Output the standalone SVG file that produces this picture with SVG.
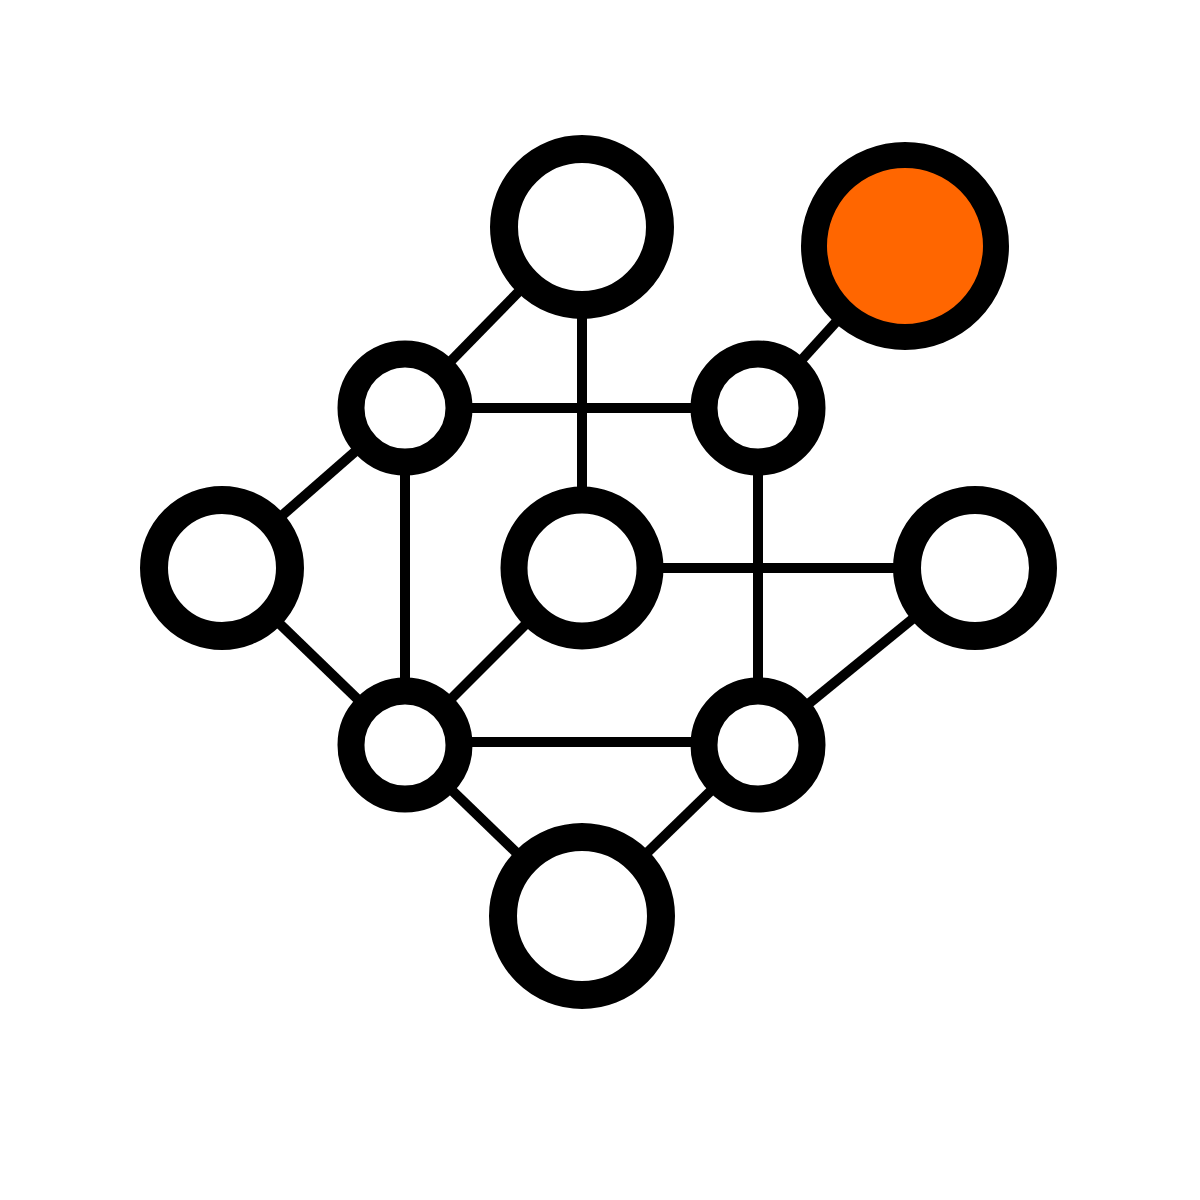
<svg xmlns="http://www.w3.org/2000/svg" width="1200" height="1200" viewBox="0 0 1200 1200">
<style>
.edge{stroke:#000;stroke-width:10;fill:none}
.node{stroke:#000;fill:#fff}
.big{stroke-width:28}
.small{stroke-width:27}
.hot{fill:#FF6600;stroke-width:26}
</style>
<rect width="1200" height="1200" fill="#fff"/>
<g id="connectors">
<line class="edge" x1="582" y1="227" x2="405" y2="408"/>
<line class="edge" x1="582" y1="227" x2="582" y2="568"/>
<line class="edge" x1="405" y1="408" x2="758" y2="408"/>
<line class="edge" x1="758" y1="408" x2="905" y2="246"/>
<line class="edge" x1="405" y1="408" x2="222" y2="568"/>
<line class="edge" x1="405" y1="408" x2="405" y2="745"/>
<line class="edge" x1="758" y1="408" x2="758" y2="745"/>
<line class="edge" x1="582" y1="568" x2="975" y2="568"/>
<line class="edge" x1="582" y1="568" x2="405" y2="745"/>
<line class="edge" x1="222" y1="568" x2="405" y2="745"/>
<line class="edge" x1="405" y1="742" x2="758" y2="742"/>
<line class="edge" x1="758" y1="745" x2="975" y2="568"/>
<line class="edge" x1="405" y1="745" x2="582" y2="916"/>
<line class="edge" x1="758" y1="745" x2="582" y2="916"/>
</g>
<g id="n-top"><circle class="node big" cx="582" cy="227" r="78"/></g>
<g id="n-orange"><circle class="node hot" cx="905" cy="246" r="91"/></g>
<g id="n-upper-left"><circle class="node small" cx="405" cy="408" r="54"/></g>
<g id="n-upper-right"><circle class="node small" cx="758" cy="408" r="54"/></g>
<g id="n-left"><circle class="node big" cx="222" cy="568" r="68"/></g>
<g id="n-center"><circle class="node small" cx="582" cy="568" r="68"/></g>
<g id="n-right"><circle class="node big" cx="975" cy="568" r="68"/></g>
<g id="n-lower-left"><circle class="node small" cx="405" cy="745" r="54"/></g>
<g id="n-lower-right"><circle class="node small" cx="758" cy="745" r="54"/></g>
<g id="n-bottom"><circle class="node big" cx="582" cy="916" r="79"/></g>
</svg>
